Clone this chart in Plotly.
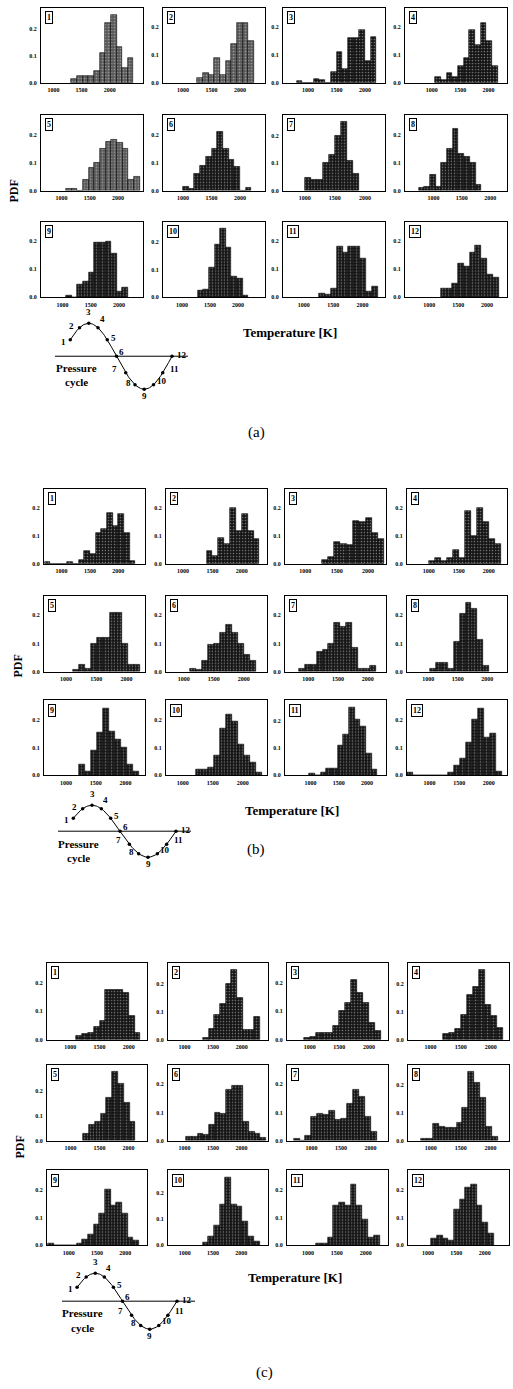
import numpy as np
import plotly.graph_objects as go

W, H = 513, 1389
BIN = 100  # K, histogram bin width

# ---------------- data: panel (a) ----------------
A_START = [1320, 1250, 800, 1060, 1080, 1000, 1000, 740, 1060, 1280, 1260, 1200]
A1 = [0.015, 0.024, 0.024, 0.024, 0.045, 0.11, 0.22, 0.25, 0.13, 0.056, 0.09]
A2 = [0.016, 0.037, 0.027, 0.09, 0.027, 0.078, 0.14, 0.215, 0.215, 0.15]
A3 = [0.005, 0, 0, 0.015, 0.01, 0, 0.04, 0.11, 0.05, 0.16, 0.16, 0.19, 0.08, 0.165]
A4 = [0.02, 0.012, 0.035, 0.02, 0.06, 0.09, 0.19, 0.135, 0.215, 0.15, 0.06]
A5 = [0.008, 0.008, 0, 0.04, 0.08, 0.1, 0.15, 0.175, 0.18, 0.17, 0.15, 0.04, 0.05]
A6 = [0.015, 0.005, 0.06, 0.09, 0.12, 0.15, 0.21, 0.15, 0.11, 0.085, 0, 0.01]
A7 = [0.045, 0.04, 0.04, 0.1, 0.13, 0.2, 0.25, 0.11, 0.06]
A8 = [0.01, 0.015, 0.055, 0.015, 0.1, 0.15, 0.22, 0.13, 0.12, 0.1, 0.02]
A9 = [0.005, 0, 0.045, 0.055, 0.09, 0.195, 0.195, 0.2, 0.155, 0.02, 0.035]
A10 = [0.025, 0.03, 0.11, 0.19, 0.25, 0.18, 0.075, 0.07, 0.005]
A11 = [0.015, 0.01, 0.03, 0.18, 0.16, 0.18, 0.18, 0.14, 0.02, 0.04]
A12 = [0.03, 0.03, 0.05, 0.12, 0.11, 0.16, 0.185, 0.14, 0.08, 0.07]

# ---------------- data: panel (b) ----------------
B_START = [700, 1400, 1260, 1000, 1120, 1100, 840, 1030, 1220, 1220, 980, 620]
B1 = [0.005, 0, 0, 0, 0.005, 0, 0.015, 0.045, 0.035, 0.11, 0.125, 0.185, 0.135, 0.18, 0.11, 0.01]
B2 = [0.045, 0.03, 0.095, 0.07, 0.2, 0.12, 0.18, 0.12, 0.09]
B3 = [0.015, 0.025, 0.078, 0.07, 0.067, 0.153, 0.15, 0.165, 0.11, 0.09]
B4 = [0.01, 0.02, 0.01, 0.02, 0.05, 0.02, 0.19, 0.1, 0.2, 0.15, 0.09, 0.07]
B5 = [0.005, 0.025, 0.01, 0.1, 0.12, 0.12, 0.21, 0.21, 0.1, 0.025, 0.025]
B6 = [0.01, 0.005, 0.04, 0.095, 0.1, 0.14, 0.165, 0.14, 0.1, 0.06, 0.04]
B7 = [0.01, 0.025, 0.025, 0.072, 0.078, 0.1, 0.175, 0.16, 0.175, 0.085, 0.01, 0.01, 0.02]
B8 = [0.01, 0.03, 0.03, 0.01, 0.107, 0.207, 0.245, 0.225, 0.115, 0.02]
B9 = [0.038, 0.014, 0.09, 0.153, 0.24, 0.157, 0.13, 0.1, 0.04, 0.014]
B10 = [0.02, 0.02, 0.03, 0.07, 0.17, 0.22, 0.195, 0.11, 0.07, 0.045, 0.01]
B11 = [0.005, 0, 0.01, 0.025, 0.025, 0.11, 0.15, 0.25, 0.205, 0.18, 0.08, 0.02]
B12 = [0.01, 0, 0, 0, 0, 0, 0, 0.012, 0.036, 0.062, 0.12, 0.2, 0.24, 0.135, 0.15, 0.015]

# ---------------- data: panel (c) ----------------
C_START = [1100, 1320, 900, 1210, 1220, 1030, 700, 830, 640, 1320, 1140, 1060]
C1 = [0.015, 0.02, 0.025, 0.045, 0.065, 0.175, 0.175, 0.175, 0.165, 0.085, 0.025]
C2 = [0.005, 0.04, 0.09, 0.13, 0.2, 0.25, 0.15, 0.035, 0.035, 0.08]
C3 = [0.005, 0.01, 0.025, 0.025, 0.025, 0.05, 0.1, 0.13, 0.21, 0.165, 0.13, 0.06, 0.03]
C4 = [0.02, 0.025, 0.04, 0.088, 0.16, 0.19, 0.25, 0.125, 0.084, 0.044]
C5 = [0.026, 0.065, 0.078, 0.11, 0.175, 0.28, 0.232, 0.155, 0.078]
C6 = [0.015, 0.012, 0.025, 0.02, 0.055, 0.1, 0.095, 0.18, 0.195, 0.195, 0.068, 0.03, 0.025, 0.01]
C7 = [0.005, 0, 0.019, 0.085, 0.094, 0.091, 0.106, 0.075, 0.079, 0.13, 0.18, 0.155, 0.085, 0.03]
C8 = [0.008, 0.008, 0.062, 0.052, 0.048, 0.045, 0.065, 0.12, 0.25, 0.21, 0.155, 0.052, 0.013]
C9 = [0.005, 0, 0, 0, 0, 0.005, 0.02, 0.038, 0.075, 0.114, 0.2, 0.144, 0.153, 0.114, 0.03, 0.016]
C10 = [0.01, 0.032, 0.077, 0.157, 0.26, 0.157, 0.15, 0.09, 0.032, 0.014]
C11 = [0.005, 0.005, 0.03, 0.143, 0.155, 0.143, 0.22, 0.143, 0.094, 0.027, 0.035]
C12 = [0.023, 0.036, 0.026, 0.017, 0.128, 0.164, 0.209, 0.218, 0.145, 0.083, 0.042]

X_TICKS = [1000, 1500, 2000]
X_TICKTEXT = ["1000", "1500", "2000"]
Y_TICKS = [0.0, 0.1, 0.2]
Y_TICKTEXT = ["0.0", "0.1", "0.2"]
CYCLE_POINTS = list(range(1, 13))   # pressure-cycle phase labels 1..12

# ---------------- layout (pixel geometry) ----------------
XR_A = [(780, 2590), (650, 2440), (559, 2353), (529, 2324), (635, 2441), (647, 2441),
        (640, 2333), (500, 2294), (618, 2423), (659, 2482), (646, 2383), (578, 2347)]
XR_B = [(690, 2470), (709, 2430), (676, 2286), (639, 2305), (639, 2305), (706, 2389),
        (611, 2305), (639, 2333), (629, 2326), (719, 2404), (547, 2335), (622, 2306)]
XR_C = [(600, 2314), (714, 2457), (616, 2322), (624, 2303), (593, 2320), (709, 2465),
        (588, 2294), (618, 2309), (618, 2382), (706, 2470), (636, 2387), (647, 2429)]

PANELS = [
    dict(start=A_START, data=[A1, A2, A3, A4, A5, A6, A7, A8, A9, A10, A11, A12], xr=XR_A,
         cols=[(41, 143), (163, 265), (283, 385), (405, 507)],
         rows=[(8, 83), (115, 191), (222, 298)],
         light=[0, 1, 4],
         pdf=(14, 192), temp=(290, 333), tag=("(a)", 256, 433),
         cyc=dict(x0=61, P=111, y0=357, amp=33, txt=(76, 369, 383))),
    dict(start=B_START, data=[B1, B2, B3, B4, B5, B6, B7, B8, B9, B10, B11, B12], xr=XR_B,
         cols=[(44, 145), (166, 267), (285, 386), (407, 507)],
         rows=[(490, 565), (597, 673), (702, 777)],
         light=[],
         pdf=(18, 668), temp=(292, 812), tag=("(b)", 256, 851),
         cyc=dict(x0=64, P=112, y0=833, amp=26, txt=(78, 846, 860))),
    dict(start=C_START, data=[C1, C2, C3, C4, C5, C6, C7, C8, C9, C10, C11, C12], xr=XR_C,
         cols=[(47, 147), (168, 268), (287, 388), (408, 509)],
         rows=[(965, 1042), (1067, 1143), (1173, 1248)],
         light=[],
         pdf=(20, 1150), temp=(295, 1280), tag=("(c)", 264, 1375),
         cyc=dict(x0=68, P=109, y0=1304, amp=28, txt=(82, 1316, 1331))),
]

LABEL_OFF = {1: (-7, 2), 2: (-8, -2), 3: (0, -11), 4: (4, -9), 5: (6, -2), 6: (5, -4),
             7: (-11, -4), 8: (-7, -2), 9: (0, 7), 10: (8, -4), 11: (12, -4), 12: (10, -1)}

SERIF = "Liberation Serif"


def px_x(v):
    return v / W


def px_y(v):
    return 1 - v / H


fig = go.Figure()
layout = {}
annotations = []
shapes = []


def axname(prefix, n):
    return prefix if n == 1 else f"{prefix}{n}"


def paper_text(x, y, text, size, bold=True, angle=0):
    return dict(xref="paper", yref="paper", x=px_x(x), y=px_y(y),
                xanchor="center", yanchor="middle", text=text, textangle=angle,
                showarrow=False,
                font=dict(family=SERIF, size=size, color="black",
                          weight="bold" if bold else "normal"))


n = 0
for p, panel in enumerate(PANELS):
    for i in range(12):
        n += 1
        r, c = divmod(i, 4)
        l, rr = panel["cols"][c]
        t, b = panel["rows"][r]
        heights = panel["data"][i]
        start = panel["start"][i]
        xs = [start + BIN * (k + 0.5) for k in range(len(heights))]
        light = i in panel["light"]
        fig.add_trace(go.Bar(
            x=xs, y=heights, width=BIN,
            xaxis=axname("x", n), yaxis=axname("y", n),
            marker=dict(color="#5a5a5a" if light else "#141414",
                        line=dict(color="black", width=0.6),
                        pattern=dict(shape=".", fillmode="overlay",
                                     fgcolor="#d8d8d8", size=3, solidity=0.25)),
            showlegend=False, hoverinfo="skip"))
        ymax = max(0.27, max(heights) * 1.1)
        layout[axname("xaxis", n)] = dict(
            domain=[px_x(l), px_x(rr)], range=list(panel["xr"][i]),
            anchor=axname("y", n), tickvals=X_TICKS, ticktext=X_TICKTEXT,
            showline=True, mirror=True, linecolor="black", linewidth=1,
            showgrid=False, zeroline=False, ticks="", ticklabelstandoff=1,
            tickfont=dict(family=SERIF, size=6, color="black", weight="bold"))
        layout[axname("yaxis", n)] = dict(
            domain=[px_y(b), px_y(t)], range=[0, ymax],
            anchor=axname("x", n), tickvals=Y_TICKS, ticktext=Y_TICKTEXT,
            showline=True, mirror=True, linecolor="black", linewidth=1,
            showgrid=False, zeroline=False, ticks="", ticklabelstandoff=2,
            tickfont=dict(family=SERIF, size=6, color="black", weight="bold"))
        annotations.append(dict(
            xref=f"{axname('x', n)} domain", yref=f"{axname('y', n)} domain",
            x=0.035, y=0.955, xanchor="left", yanchor="top", showarrow=False,
            text=str(i + 1), font=dict(family=SERIF, size=8, color="black", weight="bold"),
            bordercolor="black", borderwidth=1, borderpad=1, bgcolor="white"))

    # axis titles / tags
    px_, py_ = panel["pdf"]
    annotations.append(paper_text(px_, py_, "PDF", 12, angle=-90))
    tx, ty = panel["temp"]
    annotations.append(paper_text(tx, ty, "Temperature [K]", 13))
    tg, gx, gy = panel["tag"]
    annotations.append(paper_text(gx, gy, tg, 15, bold=False))

    # pressure-cycle sketch on its own hidden axes (phase in degrees, unit amplitude)
    cy = panel["cyc"]
    k = 37 + p
    xl, xr_ = cy["x0"] - 16, cy["x0"] + 136
    dpp = 360.0 / cy["P"]
    span = 1.7
    layout[f"xaxis{k}"] = dict(domain=[px_x(xl), px_x(xr_)],
                               range=[(xl - cy["x0"]) * dpp, (xr_ - cy["x0"]) * dpp],
                               visible=False, anchor=f"y{k}")
    layout[f"yaxis{k}"] = dict(domain=[px_y(cy["y0"] + cy["amp"] * span), px_y(cy["y0"] - cy["amp"] * span)],
                               range=[-span, span], visible=False, anchor=f"x{k}")
    phase = np.linspace(30, 360, 120)
    fig.add_trace(go.Scatter(x=phase, y=np.sin(np.radians(phase)), mode="lines",
                             line=dict(color="black", width=1),
                             xaxis=f"x{k}", yaxis=f"y{k}", showlegend=False, hoverinfo="skip"))
    pts = np.array(CYCLE_POINTS) * 30.0
    fig.add_trace(go.Scatter(x=pts, y=np.sin(np.radians(pts)), mode="markers",
                             marker=dict(color="black", size=3.5),
                             xaxis=f"x{k}", yaxis=f"y{k}", showlegend=False, hoverinfo="skip"))
    shapes.append(dict(type="line", xref=f"x{k}", yref=f"y{k}",
                       x0=-6 * dpp, x1=127 * dpp, y0=0, y1=0,
                       line=dict(color="black", width=1)))
    for q in CYCLE_POINTS:
        dx, dy = LABEL_OFF[q]
        annotations.append(dict(xref=f"x{k}", yref=f"y{k}", x=q * 30.0,
                                y=float(np.sin(np.radians(q * 30.0))),
                                xanchor="center", yanchor="middle",
                                xshift=dx, yshift=-dy, text=str(q), showarrow=False,
                                font=dict(family=SERIF, size=9, color="black", weight="bold")))
    txx, t1, t2 = cy["txt"]
    annotations.append(paper_text(txx, t1, "Pressure", 11))
    annotations.append(paper_text(txx, t2, "cycle", 11))

fig.update_layout(width=W, height=H, margin=dict(l=0, r=0, t=0, b=0),
                  paper_bgcolor="white", plot_bgcolor="white", bargap=0,
                  annotations=annotations, shapes=shapes, **layout)
fig.write_html("out.html")
